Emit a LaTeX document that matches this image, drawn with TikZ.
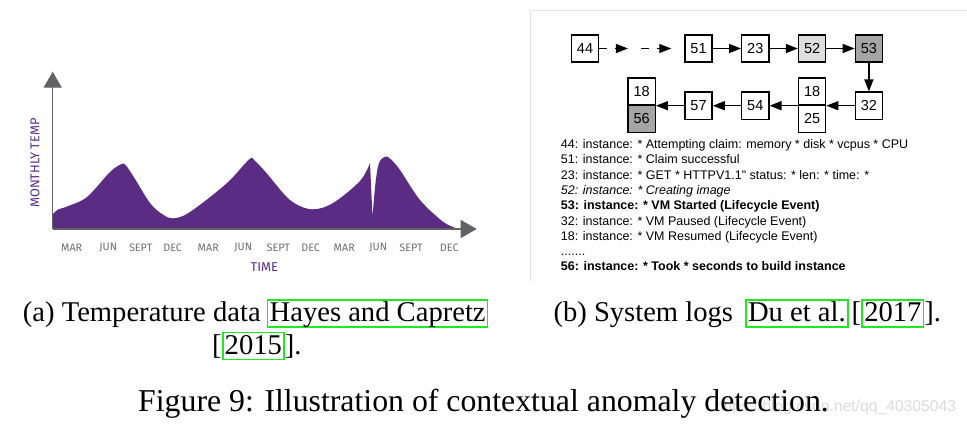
\documentclass[tikz,border=0pt]{standalone}
\usepackage{fontspec}
\setmainfont{Liberation Serif}
\newfontfamily\logfont{Liberation Sans}
\newfontfamily\chartfont{Fira Sans}
\usetikzlibrary{arrows.meta,positioning}
\definecolor{tempurple}{RGB}{91,44,131}
\definecolor{axisgray}{RGB}{98,98,100}
\definecolor{monthgray}{RGB}{110,110,112}
\definecolor{linkgreen}{RGB}{30,235,30}
\definecolor{celllight}{RGB}{222,222,222}
\definecolor{cellgray}{RGB}{165,165,165}
\newcommand\capsize{\fontsize{28.6}{31}\selectfont}
\newcommand\figsize{\fontsize{31.8}{34}\selectfont}
\tikzset{
  axisarr/.style={-{Triangle[length=16pt,width=18pt]}, line width=1.4pt, axisgray},
  month/.style={font=\chartfont\fontsize{10.8}{11}\selectfont, text=monthgray, inner sep=0pt},
  charttitle/.style={font=\chartfont\fontsize{12.8}{13}\selectfont, text=tempurple, inner sep=0pt},
  logcell/.style={rectangle, draw=black, fill=white, line width=1.3pt, minimum size=27.2pt,
                  inner sep=0pt, font=\logfont\fontsize{14.5}{14.5}\selectfont},
  logarr/.style={-{Triangle[length=12pt,width=9pt]}, line width=1.3pt},
  logtext/.style={align=left, inner sep=0pt, font=\logfont\fontsize{12.5}{15.3}\selectfont},
  capt/.style={inner sep=0pt, font=\capsize},
  citebox/.style={draw=linkgreen, line width=1.6pt, inner xsep=2pt, inner ysep=0pt,
                  text height=21.5pt, text depth=5.5pt, font=\capsize},
  wmark/.style={inner sep=0pt, text=gray!28, font=\logfont\fontsize{15.7}{15.7}\selectfont},
}
\begin{document}
\begin{tikzpicture}[x=1pt,y=-1pt]
  \path[use as bounding box] (0,0) rectangle (967,426);
  % (a) temperature chart
  \coordinate (origin) at (52.7,229);
  \coordinate (ytip) at (52.7,71.7);
  \coordinate (xtip) at (476.7,229);
  \fill[tempurple] (53,229) -- plot[smooth,tension=0.55] coordinates {(53,214) (58,209.5) (67,206.5)
    (87,197) (110,172) (121.7,164) (126,165.5) (135,179) (150,203) (162,214) (173.3,218.3)
    (190,212) (226.7,183.3) (249.3,159.3) (255,161) (266.7,173.3) (290,200) (311.7,209.3)
    (333,203) (360,181) (370,163)} -- (372.5,217)
    -- plot[smooth,tension=0.55] coordinates {(372.5,217) (375.5,183) (379,163) (385,156.7)
    (390,158.5) (400,170) (420,200) (443,221.7) (456.7,228.3)} -- cycle;
  \draw[axisarr] (origin) -- (ytip);
  \draw[axisarr] (origin) -- (xtip);
  \foreach \mon/\xx [count=\i] in {MAR/71.7, JUN/108.3, SEPT/140.7, DEC/172.7, MAR/208.3,
      JUN/243.3, SEPT/278.3, DEC/310.7, MAR/344.3, JUN/378.3, SEPT/411, DEC/449.3}
    \node[month] (m\i) at (\xx,247.7) {\mon};
  \node[charttitle] (time) at (264.3,266.7) {TIME};
  \node[charttitle, rotate=90] (ylab) at (35,163) {MONTHLY TEMP};
  % (b) log keys
  \draw[gray!20, line width=0.8pt] (530.7,282) -- (530.7,10.5) -- (967,10.5);
  \node[logcell] (n44) at (585,48.5) {44};
  \node[logcell, right=85pt of n44] (n51) {51};
  \node[logcell, right=28.3pt of n51] (n23) {23};
  \node[logcell, fill=celllight, right=28.3pt of n23] (n52) {52};
  \node[logcell, fill=cellgray, right=28.3pt of n52] (n53) {53};
  \node[logcell, below=28.7pt of n53] (n32) {32};
  \node[logcell, anchor=south east] (s18a) at ([xshift=-28.3pt]n32.west) {18};
  \node[logcell, below=-1.3pt of s18a] (s25) {25};
  \node[logcell, left=28.3pt of s18a.south west] (n54) {54};
  \node[logcell, left=28.3pt of n54] (n57) {57};
  \node[logcell, anchor=south east] (s18b) at ([xshift=-28.3pt]n57.west) {18};
  \node[logcell, fill=cellgray, below=-1.3pt of s18b] (s56) {56};
  \coordinate[right=28.7pt of n44] (d1);
  \coordinate[right=42pt of n44] (d2);
  \coordinate[right=72pt of n44] (d3);
  \draw[logarr, dash pattern=on 8pt off 8pt] (n44) -- (d1);
  \draw[logarr, dash pattern=on 8pt off 8pt] (d2) -- (d3);
  \draw[logarr] (n51) -- (n23);
  \draw[logarr] (n23) -- (n52);
  \draw[logarr] (n52) -- (n53);
  \draw[logarr] (n53) -- (n32);
  \draw[logarr] (n32) -- (s18a.south east);
  \draw[logarr] (s18a.south west) -- (n54);
  \draw[logarr] (n54) -- (n57);
  \draw[logarr] (n57) -- (s18b.south east);
  \node[logtext, anchor=north west] (logs) at (560.7,139.3) {44: instance: * Attempting claim: memory * disk * vcpus * CPU\\
    51: instance: * Claim successful\\
    23: instance: * GET * HTTPV1.1" status: * len: * time: *\\
    \textit{52: instance: * Creating image}\\
    \textbf{53: instance: * VM Started (Lifecycle Event)}\\
    32: instance: * VM Paused (Lifecycle Event)\\
    18: instance: * VM Resumed (Lifecycle Event)\\
    .......\\
    \textbf{56: instance: * Took * seconds to build instance}};
  % captions
  \node[capt, anchor=base west] (capa) at (22.7,321.7) {(a) Temperature data};
  \node[citebox, base right=6pt of capa] (refa) {Hayes and Capretz};
  \node[capt, anchor=base west] (lbra) at (212,354) {[};
  \node[citebox, base right=0pt of lbra] (refb) {2015};
  \node[capt, base right=0pt of refb] (ena) {].};
  \node[capt, anchor=base west] (capb) at (553.3,321.7) {(b) System logs};
  \node[citebox, base right=12pt of capb] (refc) {Du et al.};
  \node[capt, base right=3pt of refc] (lbrb) {[};
  \node[citebox, base right=0pt of lbrb] (refd) {2017};
  \node[capt, base right=0pt of refd] (enb) {].};
  \node[wmark, anchor=base west] (wm) at (715,411) {https://blog.csdn.net/qq\_40305043};
  \node[capt, font=\figsize, anchor=base west] (fig) at (138,411) {Figure 9: Illustration of contextual anomaly detection.};
\end{tikzpicture}
\end{document}
